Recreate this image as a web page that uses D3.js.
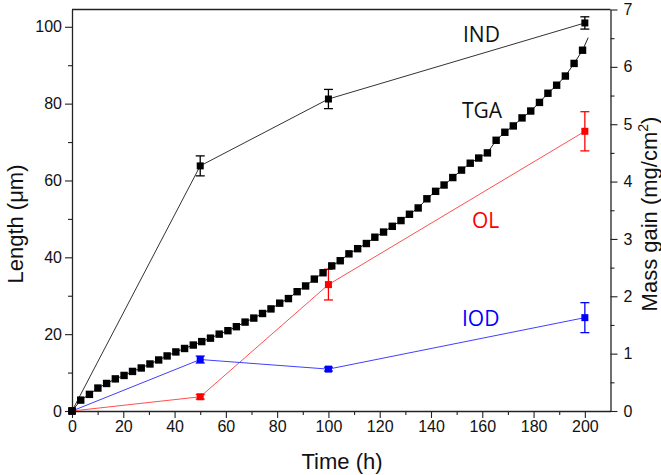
<!DOCTYPE html>
<html><head><meta charset="utf-8">
<script src="https://cdn.jsdelivr.net/npm/d3@7"></script>
<style>body{margin:0;background:#fff}svg{display:block}</style>
</head><body><svg id="c" width="661" height="475"></svg>
<script>
// ---- data ----
const layerTimes = [0, 50, 100, 200];
const indLength = [0, 63.8, 81.2, 101.0];
const indErr = [0, 2.6, 2.5, 1.6];
const olLength = [0, 3.7, 32.9, 72.8];
const olErr = [0, 0.6, 4.0, 5.1];
const iodLength = [0, 13.4, 10.9, 24.3];
const iodErr = [0, 0.9, 0.5, 3.9];

const tgaTimes = [0, 3.4, 6.8, 10.1, 13.5, 16.9, 20.3, 23.6, 27.0, 30.4,
  33.8, 37.1, 40.5, 43.9, 47.3, 50.6, 54.0, 57.4, 60.8, 64.1,
  67.5, 70.9, 74.3, 77.6, 81.0, 84.4, 87.8, 91.1, 94.5, 97.9,
  101.3, 104.6, 108.0, 111.4, 114.8, 118.1, 121.5, 124.9, 128.3, 131.6,
  135.0, 138.4, 141.8, 145.1, 148.5, 151.9, 155.3, 158.6, 162.0, 165.4,
  168.8, 172.1, 175.5, 178.9, 182.3, 185.6, 189.0, 192.4, 195.8, 199.1, 201.3];
const tgaMass = [0, 0.19, 0.29, 0.40, 0.48, 0.56, 0.62, 0.69, 0.75, 0.82,
  0.89, 0.96, 1.03, 1.09, 1.15, 1.21, 1.27, 1.34, 1.40, 1.47,
  1.55, 1.62, 1.70, 1.78, 1.88, 1.96, 2.08, 2.18, 2.30, 2.41,
  2.53, 2.62, 2.74, 2.83, 2.92, 3.03, 3.12, 3.22, 3.32, 3.43,
  3.54, 3.70, 3.83, 3.94, 4.07, 4.20, 4.32, 4.41, 4.50, 4.72,
  4.86, 4.97, 5.11, 5.23, 5.38, 5.54, 5.68, 5.84, 6.06, 6.29, 6.51];

const xTicks = [0, 20, 40, 60, 80, 100, 120, 140, 160, 180, 200];
const yLeftTicks = [0, 20, 40, 60, 80, 100];
const yRightTicks = [0, 1, 2, 3, 4, 5, 6, 7];

// ---- layout ----
const L = 72, R = 610.5, T = 9.5, B = 411;
const svg = d3.select('#c');
const x = d3.scaleLinear().domain([0, 210]).range([L, R]);
const yL = d3.scaleLinear().domain([0, 104.5]).range([B, T]);
const yR = d3.scaleLinear().domain([0, 7]).range([B, T]);
const axisFont = '"Liberation Sans", Arial, sans-serif';
const lblFont = '"Open Sans", "Noto Sans", sans-serif';

svg.append('line').attr('x1', L).attr('x2', R).attr('y1', T).attr('y2', T)
  .attr('stroke', '#222').attr('stroke-width', 1.3);

function styleAxis(g) {
  g.selectAll('path').attr('stroke', '#222').attr('stroke-width', 1.3);
  g.selectAll('line').attr('stroke', '#222').attr('stroke-width', 1.1);
  g.selectAll('text').attr('font-family', axisFont).attr('font-size', 16).attr('fill', '#111');
}
const fmt = d3.format('d');
// minor ticks
svg.append('g').attr('transform', `translate(0,${B})`)
  .call(d3.axisBottom(x).tickValues(d3.range(10, 210, 20)).tickSize(4).tickFormat('').tickSizeOuter(0))
  .call(g => g.select('path').remove()).call(styleAxis);
svg.append('g').attr('transform', `translate(${L},0)`)
  .call(d3.axisLeft(yL).tickValues(d3.range(10, 104, 20)).tickSize(4).tickFormat('').tickSizeOuter(0))
  .call(g => g.select('path').remove()).call(styleAxis);
svg.append('g').attr('transform', `translate(${R},0)`)
  .call(d3.axisRight(yR).tickValues(d3.range(0.5, 7, 1)).tickSize(4).tickFormat('').tickSizeOuter(0))
  .call(g => g.select('path').remove()).call(styleAxis);
// major axes
svg.append('g').attr('transform', `translate(0,${B})`)
  .call(d3.axisBottom(x).tickValues(xTicks).tickFormat(fmt).tickSize(7).tickSizeOuter(0).tickPadding(3))
  .call(styleAxis);
svg.append('g').attr('transform', `translate(${L},0)`)
  .call(d3.axisLeft(yL).tickValues(yLeftTicks).tickFormat(fmt).tickSize(7).tickSizeOuter(0).tickPadding(3))
  .call(styleAxis);
svg.append('g').attr('transform', `translate(${R},0)`)
  .call(d3.axisRight(yR).tickValues(yRightTicks).tickFormat(fmt).tickSize(7).tickSizeOuter(0).tickPadding(6))
  .call(styleAxis);

// axis titles
svg.append('text').attr('x', 342).attr('y', 469).attr('text-anchor', 'middle')
  .attr('font-family', axisFont).attr('font-size', 22).attr('fill', '#111').text('Time (h)');
svg.append('text').attr('transform', `translate(23,224) rotate(-90)`)
  .attr('text-anchor', 'middle').attr('font-family', axisFont).attr('font-size', 22).attr('fill', '#111')
  .text('Length (\u03BCm)');
const rt = svg.append('text').attr('transform', `translate(657,214) rotate(-90)`)
  .attr('text-anchor', 'middle').attr('font-family', axisFont).attr('font-size', 22).attr('fill', '#111');
rt.append('tspan').text('Mass gain (mg/cm');
rt.append('tspan').attr('font-size', 14).attr('dy', -9).text('2');
rt.append('tspan').attr('dy', 9).text(')');

// series
function series(vals, errs, color, lineColor, yS) {
  const pts = layerTimes.map((t, i) => ({ t, v: vals[i], e: errs[i] }));
  svg.append('path').datum(pts)
    .attr('d', d3.line().x(d => x(d.t)).y(d => yS(d.v)))
    .attr('fill', 'none').attr('stroke', lineColor).attr('stroke-width', 1);
  const eb = svg.append('g').attr('stroke', color).attr('stroke-width', 1.3);
  pts.filter(d => d.e > 0).forEach(d => {
    eb.append('line').attr('x1', x(d.t)).attr('x2', x(d.t)).attr('y1', yS(d.v - d.e)).attr('y2', yS(d.v + d.e));
    [d.v - d.e, d.v + d.e].forEach(v => eb.append('line')
      .attr('x1', x(d.t) - 4.5).attr('x2', x(d.t) + 4.5).attr('y1', yS(v)).attr('y2', yS(v)));
  });
  svg.append('g').selectAll('rect').data(pts).join('rect')
    .attr('x', d => x(d.t) - 3.5).attr('y', d => yS(d.v) - 3.5)
    .attr('width', 7).attr('height', 7).attr('fill', color);
}
series(olLength, olErr, '#ff0000', '#ff5050', yL);
series(iodLength, iodErr, '#0000ff', '#4040ff', yL);
series(indLength, indErr, '#000000', '#333333', yL);

// TGA
const tga = tgaTimes.map((t, i) => ({ t, v: tgaMass[i] }));
svg.append('path').datum(tga)
  .attr('d', d3.line().x(d => x(d.t)).y(d => yR(d.v)))
  .attr('fill', 'none').attr('stroke', '#222').attr('stroke-width', 1);
svg.append('g').selectAll('rect').data(tga.slice(0, tga.length - 1)).join('rect')
  .attr('x', d => x(d.t) - 3.7).attr('y', d => yR(d.v) - 3.7)
  .attr('width', 7.4).attr('height', 7.4).attr('fill', '#000');

// series labels
const labels = [
  { text: 'IND', x: 463, y: 42, color: '#111' },
  { text: 'TGA', x: 462, y: 118, color: '#111' },
  { text: 'OL', x: 472, y: 228, color: '#ff0000' },
  { text: 'IOD', x: 462, y: 326, color: '#0000ff' }
];
svg.append('g').selectAll('text').data(labels).join('text')
  .attr('x', d => d.x).attr('y', d => d.y).attr('fill', d => d.color)
  .attr('font-family', lblFont).attr('font-size', 21).text(d => d.text);
</script>
</body></html>
